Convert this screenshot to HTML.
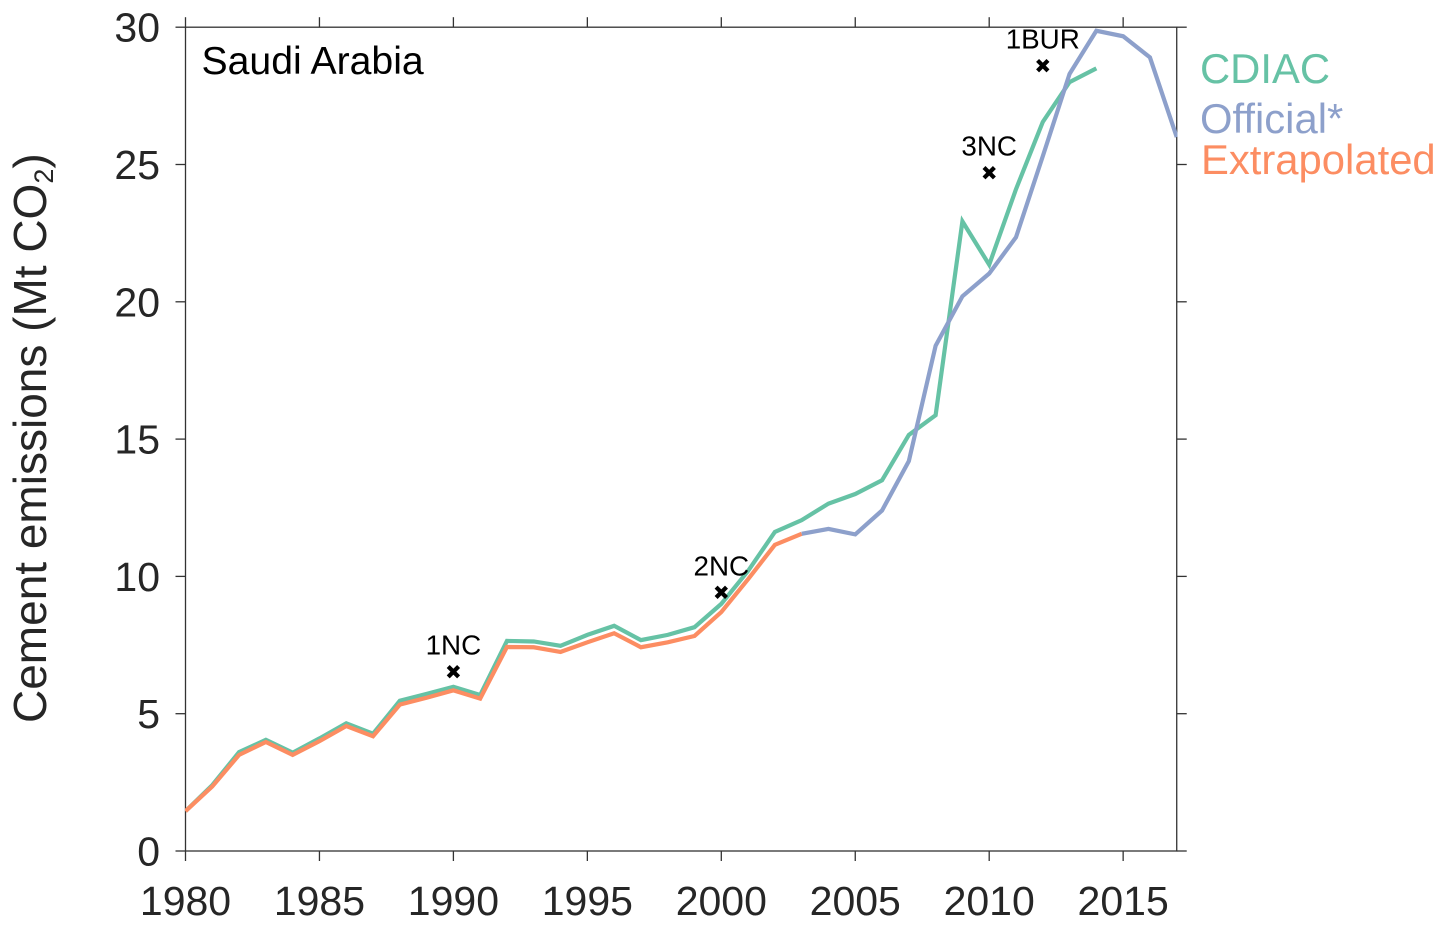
<!DOCTYPE html>
<html>
<head>
<meta charset="utf-8">
<title>Saudi Arabia cement emissions</title>
<style>
html,body{margin:0;padding:0;background:#fff;width:1445px;height:928px;overflow:hidden}
svg{display:block}
text{font-family:"Liberation Sans",Arial,sans-serif}
</style>
</head>
<body>
<svg id="chart" width="1445" height="928" viewBox="0 0 1445 928" xmlns="http://www.w3.org/2000/svg">
<defs><clipPath id="plot-clip"><rect x="185" y="27" width="992.5" height="824"/></clipPath></defs>
<g id="axes"></g>
<g id="series" clip-path="url(#plot-clip)"></g>
<g id="markers"></g>
<text x="201.5" y="74" font-size="39.2" fill="#000">Saudi Arabia</text>
<text transform="translate(46,723) rotate(-90)" font-size="46" fill="#262626">Cement emissions (Mt CO<tspan font-size="27" dy="7">2</tspan><tspan dy="-7">)</tspan></text>
<text x="1200" y="83" font-size="41.8" fill="#66c2a5">CDIAC</text>
<text x="1200" y="133" font-size="41.8" fill="#8da0cb">Official*</text>
<text x="1201" y="174" font-size="41.8" fill="#fc8d62">Extrapolated</text>
</svg>
<script>
const cdiacYears = [1980,1981,1982,1983,1984,1985,1986,1987,1988,1989,1990,1991,1992,1993,1994,1995,1996,1997,1998,1999,2000,2001,2002,2003,2004,2005,2006,2007,2008,2009,2010,2011,2012,2013,2014];
const cdiacValues = [1.45,2.4,3.6,4.05,3.58,4.1,4.65,4.27,5.47,5.72,5.98,5.68,7.65,7.63,7.47,7.87,8.2,7.68,7.87,8.15,9.0,10.2,11.62,12.05,12.65,13.0,13.5,15.15,15.87,22.93,21.35,24.1,26.55,28.0,28.5];
const extrapolatedYears = [1980,1981,1982,1983,1984,1985,1986,1987,1988,1989,1990,1991,1992,1993,1994,1995,1996,1997,1998,1999,2000,2001,2002,2003];
const extrapolatedValues = [1.45,2.35,3.5,3.97,3.5,4.0,4.55,4.18,5.33,5.58,5.85,5.55,7.43,7.42,7.25,7.6,7.93,7.42,7.6,7.83,8.7,9.9,11.15,11.55];
const officialYears = [2003,2004,2005,2006,2007,2008,2009,2010,2011,2012,2013,2014,2015,2016,2017];
const officialValues = [11.55,11.73,11.53,12.4,14.2,18.4,20.2,21.03,22.35,25.3,28.3,29.87,29.67,28.9,26.0];
const reportLabels = ["1NC","2NC","3NC","1BUR"];
const reportYears = [1990,2000,2010,2012];
const reportValues = [6.53,9.42,24.7,28.6];
const xTickLabels = [1980,1985,1990,1995,2000,2005,2010,2015];
const yTickLabels = [0,5,10,15,20,25,30];

const NS = 'http://www.w3.org/2000/svg';
const xScale = function (year) { return 185.5 + (year - 1980) * 26.79; };
const yScale = function (value) { return 851 - value * 27.46; };
const axesG = document.getElementById('axes');
const seriesG = document.getElementById('series');
const markersG = document.getElementById('markers');

function make(parent, tag, attrs, content) {
  const el = document.createElementNS(NS, tag);
  Object.keys(attrs).forEach(function (k) { el.setAttribute(k, attrs[k]); });
  if (content !== undefined) el.textContent = content;
  parent.appendChild(el);
  return el;
}

const AX = '#333333';
const left = xScale(1980), right = xScale(2017), top_ = yScale(30), bottom = yScale(0);

const frame = make(axesG, 'rect', {x:left, y:top_, width:right-left, height:bottom-top_, fill:'none', stroke:AX, 'stroke-width':1.3});



xTickLabels.forEach(function (t) {
  const x = xScale(t);
  const tb = make(axesG, 'line', {x1:x, x2:x, y1:bottom, y2:bottom+10, stroke:AX, 'stroke-width':1.3});
  
  
  const tt = make(axesG, 'line', {x1:x, x2:x, y1:top_, y2:top_-10, stroke:AX, 'stroke-width':1.3});
  
  
  const lb = make(axesG, 'text', {x:x, y:915, 'font-size':41, 'text-anchor':'middle', fill:'#262626'}, String(t));
  
  
});

yTickLabels.forEach(function (t) {
  const y = yScale(t);
  const tl = make(axesG, 'line', {x1:left-10, x2:left, y1:y, y2:y, stroke:AX, 'stroke-width':1.3});
  
  
  const tr = make(axesG, 'line', {x1:right, x2:right+10, y1:y, y2:y, stroke:AX, 'stroke-width':1.3});
  
  
  const lb = make(axesG, 'text', {x:160, y:y+14.5, 'font-size':41, 'text-anchor':'end', fill:'#262626'}, String(t));
  
  
});

function pointsOf(years, values) {
  return years.map(function (yr, i) { return xScale(yr).toFixed(2) + ',' + yScale(values[i]).toFixed(2); }).join(' ');
}

const cdiacLine = make(seriesG, 'polyline', {points:pointsOf(cdiacYears, cdiacValues), fill:'none', stroke:'#66c2a5', 'stroke-width':4.2, 'stroke-linejoin':'miter'});



const extrapolatedLine = make(seriesG, 'polyline', {points:pointsOf(extrapolatedYears, extrapolatedValues), fill:'none', stroke:'#fc8d62', 'stroke-width':4.2, 'stroke-linejoin':'miter'});



const officialLine = make(seriesG, 'polyline', {points:pointsOf(officialYears, officialValues), fill:'none', stroke:'#8da0cb', 'stroke-width':4.2, 'stroke-linejoin':'miter'});



reportLabels.forEach(function (name, i) {
  const x = xScale(reportYears[i]);
  const y = yScale(reportValues[i]);
  const d = 5.2;
  const mark = make(markersG, 'path', {d:'M'+(x-d)+' '+(y-d)+'L'+(x+d)+' '+(y+d)+'M'+(x-d)+' '+(y+d)+'L'+(x+d)+' '+(y-d), stroke:'#000', 'stroke-width':4.2, fill:'none'});
  
  
  const lb = make(markersG, 'text', {x:x, y:y-17, 'font-size':27.8, 'text-anchor':'middle', fill:'#000'}, name);
  
  
});
</script>
</body>
</html>
